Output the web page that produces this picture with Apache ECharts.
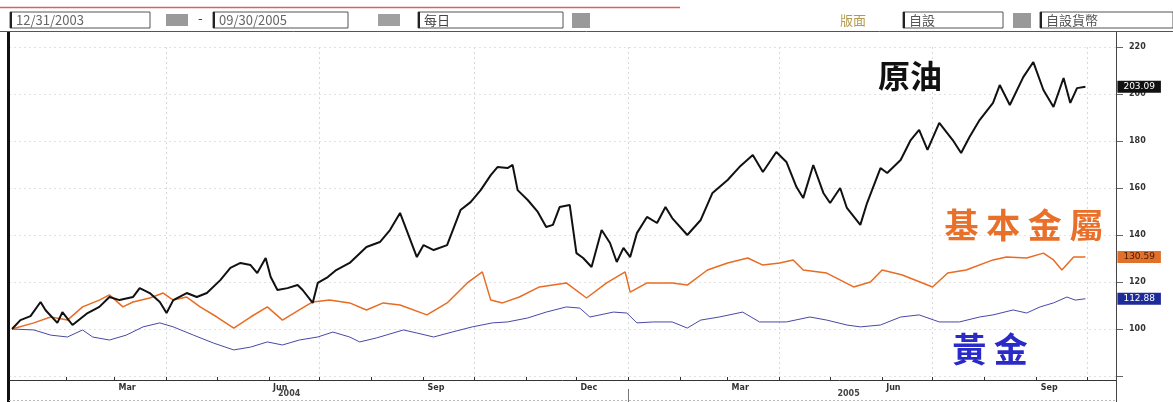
<!DOCTYPE html>
<html>
<head>
<meta charset="utf-8">
<script src="https://cdn.jsdelivr.net/npm/echarts@6/dist/echarts.min.js"></script>
<style>
html,body{margin:0;padding:0;background:#fff;}
#c{width:1173px;height:402px;}
</style>
</head>
<body>
<div id="c"></div>
<script>
// ---- data (index, 12/31/2003 = 100) ----
var oilSeries = [
['2003-12-31',100],['2004-01-05',103.8],['2004-01-11',105.5],['2004-01-17',111.5],['2004-01-20',108],
['2004-01-27',102.6],['2004-01-30',107.2],['2004-02-05',101.7],['2004-02-14',106.8],['2004-02-21',109.4],
['2004-02-27',113.6],['2004-03-04',112.3],['2004-03-12',113.6],['2004-03-16',117.4],['2004-03-22',115.3],
['2004-03-28',111.5],['2004-04-01',106.8],['2004-04-05',112.3],['2004-04-13',115.3],['2004-04-19',113.6],
['2004-04-25',115.3],['2004-05-03',120.8],['2004-05-09',126],['2004-05-15',128.1],['2004-05-21',127.2],
['2004-05-25',123.8],['2004-05-30',130.2],['2004-06-02',122.1],['2004-06-06',116.6],['2004-06-12',117.4],
['2004-06-18',118.7],['2004-06-21',116.6],['2004-06-27',111.1],['2004-06-30',119.6],['2004-07-06',122.1],
['2004-07-11',125.1],['2004-07-19',128.1],['2004-07-29',134.9],['2004-08-06',137],['2004-08-12',142.1],
['2004-08-18',149.4],['2004-08-28',130.6],['2004-09-01',135.7],['2004-09-07',133.6],['2004-09-15',135.7],
['2004-09-23',150.6],['2004-09-29',154],['2004-10-05',159.1],['2004-10-11',165.5],['2004-10-15',168.9],
['2004-10-21',168.5],['2004-10-24',169.8],['2004-10-27',159.1],['2004-11-02',154.9],['2004-11-08',149.8],
['2004-11-13',143.4],['2004-11-17',144.3],['2004-11-21',151.9],['2004-11-27',152.8],['2004-12-01',132.3],
['2004-12-05',130.2],['2004-12-10',126.4],['2004-12-16',142.1],['2004-12-21',136.6],['2004-12-25',128.5],
['2004-12-29',134.5],['2005-01-02',130.6],['2005-01-06',140.8],['2005-01-12',147.7],['2005-01-18',145.1],
['2005-01-23',151.9],['2005-01-27',147.2],['2005-02-05',140],['2005-02-13',146.4],['2005-02-20',157.9],
['2005-03-01',163.4],['2005-03-08',168.9],['2005-03-16',174],['2005-03-22',166.8],['2005-03-30',175.3],
['2005-04-05',171.1],['2005-04-11',160.4],['2005-04-15',155.7],['2005-04-21',169.8],['2005-04-27',157.9],
['2005-05-01',153.6],['2005-05-07',160],['2005-05-11',151.5],['2005-05-19',144.3],['2005-05-23',153.6],
['2005-05-31',168.5],['2005-06-04',166.4],['2005-06-12',171.9],['2005-06-18',180.4],['2005-06-23',184.7],
['2005-06-28',176.2],['2005-07-05',187.7],['2005-07-13',180.4],['2005-07-18',174.9],['2005-07-23',181.7],
['2005-07-29',188.9],['2005-08-06',196.2],['2005-08-10',203.8],['2005-08-16',195.3],['2005-08-24',207.2],
['2005-08-30',213.6],['2005-09-05',201.7],['2005-09-11',194.5],['2005-09-17',206.8],['2005-09-21',196.2],
['2005-09-25',202.5],['2005-09-30',203.09]
];
var metalSeries = [
['2003-12-31',100],['2004-01-13',102.6],['2004-01-23',105.1],['2004-02-02',103.8],['2004-02-11',109.4],
['2004-02-21',112.3],['2004-02-27',114.5],['2004-03-06',109.4],['2004-03-12',111.5],['2004-03-22',113.2],
['2004-03-30',115.3],['2004-04-05',112.3],['2004-04-13',113.6],['2004-04-21',109.4],['2004-05-01',105.1],
['2004-05-11',100.4],['2004-05-21',105.1],['2004-05-31',109.4],['2004-06-09',103.8],['2004-06-19',108.1],
['2004-06-27',111.5],['2004-07-07',112.3],['2004-07-19',111.1],['2004-07-29',108.1],['2004-08-08',111.1],
['2004-08-18',110.2],['2004-09-03',106],['2004-09-15',111.1],['2004-09-27',119.6],['2004-10-06',124.3],
['2004-10-11',112.3],['2004-10-18',111.1],['2004-10-28',113.6],['2004-11-09',117.9],['2004-11-25',119.6],
['2004-12-07',113.2],['2004-12-19',119.6],['2004-12-30',124.3],['2005-01-02',115.7],['2005-01-12',119.6],
['2005-01-27',119.6],['2005-02-05',118.7],['2005-02-17',125.1],['2005-03-01',128.1],['2005-03-13',130.2],
['2005-03-22',127.2],['2005-04-01',128.1],['2005-04-09',129.4],['2005-04-15',125.1],['2005-04-29',123.8],
['2005-05-15',117.9],['2005-05-25',120],['2005-06-01',125.1],['2005-06-13',123],['2005-07-01',117.9],
['2005-07-10',123.8],['2005-07-21',125.1],['2005-08-06',129.4],['2005-08-14',130.6],['2005-08-26',130.2],
['2005-09-05',132.3],['2005-09-11',129.4],['2005-09-16',125.1],['2005-09-23',130.6],['2005-09-30',130.59]
];
var goldSeries = [
['2003-12-31',100],['2004-01-13',99.6],['2004-01-23',97.4],['2004-02-02',96.6],['2004-02-11',99.6],
['2004-02-17',96.6],['2004-02-27',95.3],['2004-03-08',97.4],['2004-03-18',100.9],['2004-03-28',102.6],
['2004-04-05',100.9],['2004-04-17',97.4],['2004-04-29',94],['2004-05-11',91.1],['2004-05-21',92.3],
['2004-05-31',94.5],['2004-06-09',93.2],['2004-06-19',95.3],['2004-06-30',96.6],['2004-07-09',98.7],
['2004-07-19',96.6],['2004-07-25',94.5],['2004-08-04',96.2],['2004-08-20',99.6],['2004-08-28',98.3],
['2004-09-07',96.6],['2004-09-18',98.7],['2004-09-30',100.9],['2004-10-12',102.6],['2004-10-21',103],
['2004-11-02',104.7],['2004-11-13',107.2],['2004-11-25',109.4],['2004-12-03',108.9],['2004-12-09',105.1],
['2004-12-23',107.2],['2004-12-31',106.8],['2005-01-06',102.6],['2005-01-16',103],['2005-01-27',103],
['2005-02-05',100.4],['2005-02-13',103.8],['2005-02-24',105.1],['2005-03-10',107.2],['2005-03-20',103],
['2005-04-05',103],['2005-04-19',105.1],['2005-04-29',103.8],['2005-05-11',101.7],['2005-05-19',100.9],
['2005-05-31',101.7],['2005-06-12',105.1],['2005-06-23',106],['2005-07-05',103],['2005-07-17',103],
['2005-07-29',105.1],['2005-08-06',106],['2005-08-18',108.1],['2005-08-26',106.8],['2005-09-03',109.4],
['2005-09-11',111.1],['2005-09-19',113.6],['2005-09-24',112.3],['2005-09-30',112.88]
];
var seriesNames = ['原油', '基本金屬', '黃金'];
var monthTicks = ['2004-02-01','2004-03-01','2004-04-01','2004-05-01','2004-06-01','2004-07-01','2004-08-01',
  '2004-09-01','2004-10-01','2004-11-01','2004-12-01','2005-01-01','2005-02-01','2005-03-01','2005-04-01',
  '2005-05-01','2005-06-01','2005-07-01','2005-08-01','2005-09-01','2005-10-01'];
var quarterGrid = ['2004-04-01','2004-07-01','2004-10-01','2005-01-01','2005-04-01','2005-07-01','2005-10-01'];
var monthLabelDates = ['2004-03-01','2004-06-01','2004-09-01','2004-12-01','2005-03-01','2005-06-01','2005-09-01'];
var monthLabels = ['Mar','Jun','Sep','Dec','Mar','Jun','Sep'];
var yearLabelDates = ['2004-06-13','2005-05-12'];
var yearLabels = ['2004','2005'];
var yearBreaks = ['2005-01-01'];
var yTicks = {min: 80, max: 220, interval: 20};
var headerTexts = {from: '12/31/2003', to: '09/30/2005', freq: '每日', layout: '版面', set1: '自設', set2: '自設貨幣'};

function ts(s){ return new Date(s + 'T00:00:00Z').getTime(); }
function labelFor(dates, labels){
  var m = dates.map(ts);
  return function(v){
    for (var i = 0; i < m.length; i++) { if (Math.abs(m[i] - v) < 3600000) return labels[i]; }
    return '';
  };
}
var xMin = ts('2003-12-29') + 5*3600000;
var xMax = xMin + 659*86400000;
var F = '"DejaVu Sans", Arial, sans-serif';
var CJK = '"Noto Sans CJK TC", "Noto Sans CJK SC", sans-serif';

function box(x, y, w, h, text, color){
  return [
    {type:'rect', shape:{x:x, y:y, width:w, height:h}, style:{fill:'#fff', stroke:'#555', lineWidth:1}, z:10},
    {type:'rect', shape:{x:x, y:y, width:2, height:h}, style:{fill:'#222'}, z:11},
    {type:'text', x:x+6, y:y+h/2, style:{text:text, fill:color||'#666', font:'13px ' + CJK, textVerticalAlign:'middle'}, z:11}
  ];
}
function sq(x, y, w, h, c){ return {type:'rect', shape:{x:x,y:y,width:w,height:h}, style:{fill:c||'#999'}, z:10}; }
function ln(x1,y1,x2,y2,c,w,dash){ return {type:'line', shape:{x1:x1,y1:y1,x2:x2,y2:y2}, style:{stroke:c, lineWidth:w, lineDash:dash||null}, z:12}; }

var graphics = [].concat(
  [ln(0, 7.5, 680, 7.5, '#e06060', 1.5)],
  box(10, 12, 140, 16, headerTexts.from),
  [sq(166, 14, 22, 12, '#9a9a9a'), {type:'text', x:198, y:20, style:{text:'-', fill:'#444', font:'13px ' + F, textVerticalAlign:'middle'}, z:11}],
  box(213, 12, 135, 16, headerTexts.to),
  [sq(378, 14, 22, 12, '#a0a0a0')],
  box(418, 12, 145, 16, headerTexts.freq, '#444'),
  [sq(572, 13, 18, 15, '#999')],
  [{type:'text', x:840, y:20, style:{text:headerTexts.layout, fill:'#b49a50', font:'13px ' + CJK, textVerticalAlign:'middle'}, z:11}],
  box(903, 12, 100, 16, headerTexts.set1, '#555'),
  [sq(1013, 13, 18, 15, '#999')],
  box(1040, 12, 133, 16, headerTexts.set2, '#555'),
  [
    ln(0, 31.5, 1173, 31.5, '#555', 1),
    ln(8.5, 32, 8.5, 402, '#111', 3),
    ln(1116.5, 32, 1116.5, 402, '#444', 1),
    ln(9, 400.5, 1116, 400.5, '#bbb', 1, [2,2]),
    {type:'text', x:910, y:76, style:{text:'原油', fill:'#111', font:'bold 32px ' + CJK, textAlign:'center', textVerticalAlign:'middle'}, z:20},
    {type:'text', x:1024, y:225, style:{text:'基 本 金 屬', fill:'#e8702a', font:'bold 34px ' + CJK, textAlign:'center', textVerticalAlign:'middle'}, z:20},
    {type:'text', x:990, y:349, style:{text:'黃 金', fill:'#2a2ac8', font:'bold 34px ' + CJK, textAlign:'center', textVerticalAlign:'middle'}, z:20}
  ]
);

function mkSeries(name, data, color, width, bg, fg){
  return {
    name: name, type:'line', xAxisIndex:0, data: data.map(function(p){ return [ts(p[0]), p[1]]; }),
    showSymbol:false, symbol:'none', smooth:false, animation:false,
    lineStyle:{color:color, width:width}, itemStyle:{color:color},
    emphasis:{disabled:true},
    endLabel:{show:true, distance:32, formatter:function(p){ return p.value[1].toFixed(2); },
      backgroundColor:bg, color:fg, fontSize:9, fontFamily:F, padding:[1,6,1,6], lineHeight:10}
  };
}

var chart = echarts.init(document.getElementById('c'), null, {renderer:'canvas'});
chart.setOption({
  animation:false,
  backgroundColor:'#fff',
  grid:{left:9, right:57, top:47, bottom:26, containLabel:false},
  xAxis:[
    {type:'value', position:'bottom', min:xMin, max:xMax, offset:4,
      axisLine:{show:true, lineStyle:{color:'#333', width:1}},
      axisTick:{show:true, inside:true, length:3, lineStyle:{color:'#333'}, customValues: monthTicks.map(ts)},
      axisLabel:{show:true, customValues: monthLabelDates.map(ts), formatter: labelFor(monthLabelDates, monthLabels),
        align:'left', padding:[0,0,0,4], margin:4, fontSize:8, fontWeight:'bold', color:'#333', fontFamily:F},
      splitLine:{show:false}},
    {type:'value', position:'bottom', min:xMin, max:xMax,
      axisLine:{show:false}, axisLabel:{show:false},
      axisTick:{show:false, customValues: quarterGrid.map(ts)},
      splitLine:{show:true, lineStyle:{color:'#d8d8d8', type:[2,3], width:1}}},
    {type:'value', position:'bottom', min:xMin, max:xMax, offset:13,
      axisLine:{show:false},
      axisTick:{show:true, length:13, lineStyle:{color:'#777'}, customValues: yearBreaks.map(ts)},
      axisLabel:{show:true, customValues: yearLabelDates.map(ts), formatter: labelFor(yearLabelDates, yearLabels),
        margin:1, fontSize:8, fontWeight:'bold', color:'#444', fontFamily:F},
      splitLine:{show:false}}
  ],
  yAxis:{type:'value', position:'right', min:yTicks.min, max:yTicks.max, interval:yTicks.interval,
    axisLine:{show:true, lineStyle:{color:'#444', width:1}},
    axisTick:{show:true, length:7, lineStyle:{color:'#666'}},
    axisLabel:{show:true, margin:13, fontSize:8, fontWeight:'bold', color:'#333', fontFamily:F,
      formatter:function(v){ return v < 100 ? '' : String(v); }},
    splitLine:{show:true, lineStyle:{color:'#e2e2e2', type:[2,3]}}
  },
  series:[
    mkSeries(seriesNames[2], goldSeries, '#4848a8', 1, '#1c2a9a', '#fff'),
    mkSeries(seriesNames[1], metalSeries, '#e86c24', 1.5, '#e0702a', '#4a1a00'),
    mkSeries(seriesNames[0], oilSeries, '#111', 2, '#111', '#fff')
  ],
  graphic: graphics
});
</script>
</body>
</html>
